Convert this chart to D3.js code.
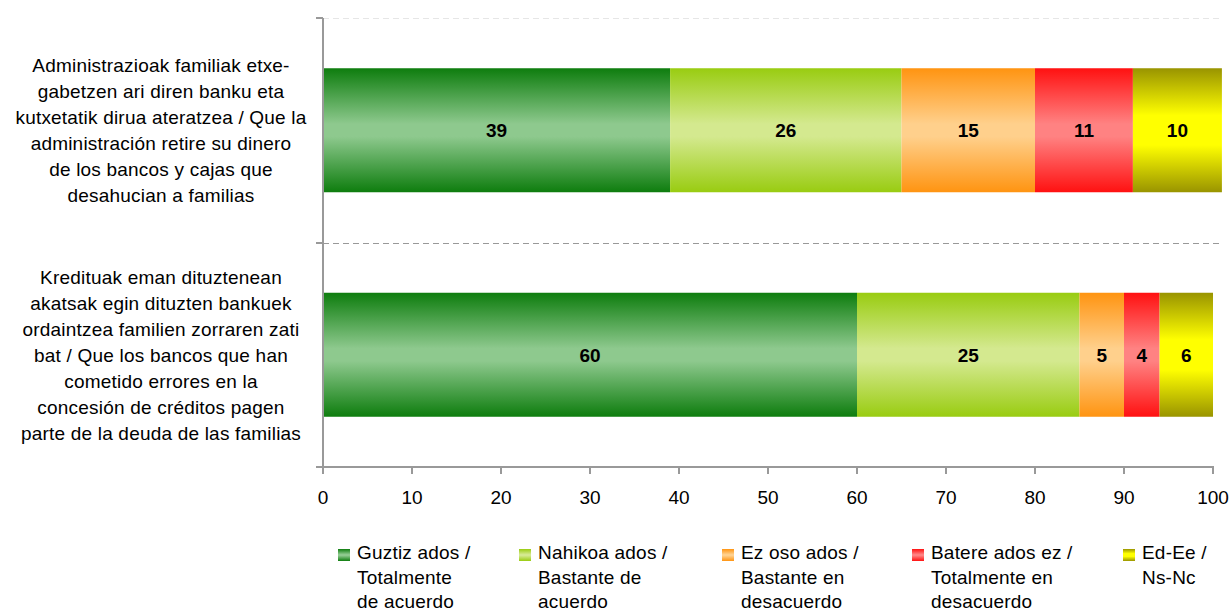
<!DOCTYPE html>
<html><head><meta charset="utf-8">
<script src="https://cdn.jsdelivr.net/npm/d3@7"></script>
<style>body{margin:0;background:#fff}svg{display:block;font-family:"Liberation Sans",Arial,sans-serif}</style>
</head><body><svg id="c" width="1231" height="608"></svg>
<script>
const categories = [
  ["Administrazioak familiak etxe-","gabetzen ari diren banku eta","kutxetatik dirua ateratzea / Que la","administración retire su dinero","de los bancos y cajas que","desahucian a familias"],
  ["Kredituak eman dituztenean","akatsak egin dituzten bankuek","ordaintzea familien zorraren zati","bat / Que los bancos que han","cometido errores en la","concesión de créditos pagen","parte de la deuda de las familias"]
];
const seriesNames = [
  ["Guztiz ados /","Totalmente","de acuerdo"],
  ["Nahikoa ados /","Bastante de","acuerdo"],
  ["Ez oso ados /","Bastante en","desacuerdo"],
  ["Batere ados ez /","Totalmente en","desacuerdo"],
  ["Ed-Ee /","Ns-Nc"]
];
const guztiz = [39, 60];
const nahikoa = [26, 25];
const ezOso = [15, 5];
const batere = [11, 4];
const edEe = [10, 6];
const xTicks = [0,10,20,30,40,50,60,70,80,90,100];
const edgeColors = ["#0e7d0e","#99cc11","#ff9411","#ff1111","#999400"];
const midColors = ["#8ec98e","#d4e98f","#ffd08c","#ff8282","#ffff00"];

const keys = ["s0","s1","s2","s3","s4"];
const rows = [0,1].map(i => ({cat:i, s0:guztiz[i], s1:nahikoa[i], s2:ezOso[i], s3:batere[i], s4:edEe[i]}));
const stacked = d3.stack().keys(keys)(rows);

const svg = d3.select("#c");
const x = d3.scaleLinear().domain([0,100]).range([323,1213]);
const yBand = d3.scaleBand().domain([0,1]).range([18,467]).paddingInner(0).paddingOuter(0);
const barH = 124;
const FS = 19;

const defs = svg.append("defs");
keys.forEach((k,i)=>{
  const g = defs.append("linearGradient").attr("id","g"+i).attr("x1",0).attr("y1",0).attr("x2",0).attr("y2",1);
  const a = i===4 ? 38 : 45, b = i===4 ? 62 : 55;
  g.append("stop").attr("offset","0%").attr("stop-color",edgeColors[i]);
  g.append("stop").attr("offset",a+"%").attr("stop-color",midColors[i]);
  g.append("stop").attr("offset",b+"%").attr("stop-color",midColors[i]);
  g.append("stop").attr("offset","100%").attr("stop-color",edgeColors[i]);
});

// gridlines
svg.append("line").attr("x1",323).attr("x2",1222).attr("y1",18.5).attr("y2",18.5)
  .attr("stroke","#e6e6e6").attr("stroke-dasharray","6,4");
svg.append("line").attr("x1",323).attr("x2",1222).attr("y1",243.5).attr("y2",243.5)
  .attr("stroke","#999").attr("stroke-dasharray","6,4");

// bars
stacked.forEach((s,i)=>{
  svg.append("g").selectAll("rect").data(s).join("rect")
    .attr("x",d=>x(d[0])).attr("width",d=>x(d[1])-x(d[0]))
    .attr("y",d=>yBand(d.data.cat)+yBand.bandwidth()/2-barH/2).attr("height",barH)
    .attr("fill","url(#g"+i+")");
  svg.append("g").selectAll("text").data(s).join("text")
    .attr("x",d=>(x(d[0])+x(d[1]))/2).attr("y",d=>yBand(d.data.cat)+yBand.bandwidth()/2)
    .attr("dy","0.36em").attr("text-anchor","middle").attr("font-weight","bold").attr("font-size",FS)
    .text(d=>d[1]-d[0]);
});

// axes
const axG = svg.append("g").attr("stroke","#999").attr("stroke-width",2);
axG.append("line").attr("x1",323).attr("x2",323).attr("y1",18).attr("y2",468);
axG.append("line").attr("x1",322).attr("x2",1214).attr("y1",467).attr("y2",467);
[18,243,467].forEach(y=>axG.append("line").attr("x1",316).attr("x2",323).attr("y1",y).attr("y2",y));
xTicks.forEach(t=>axG.append("line").attr("x1",x(t)).attr("x2",x(t)).attr("y1",467).attr("y2",474));
svg.append("g").selectAll("text").data(xTicks).join("text")
  .attr("x",d=>x(d)).attr("y",504).attr("text-anchor","middle").attr("font-size",FS).attr("fill","#000").text(d=>d);

// category labels
categories.forEach((lines,i)=>{
  const cy = yBand(i)+yBand.bandwidth()/2;
  const lh = 26;
  const t = svg.append("text").attr("text-anchor","middle").attr("font-size",FS).attr("letter-spacing",0.2).attr("fill","#000");
  lines.forEach((l,j)=>{
    t.append("tspan").attr("x",161).attr("y",cy+(j-(lines.length-1)/2)*lh).attr("dy","0.36em").text(l);
  });
});

// legend
const legX = [338,519,722,912,1123];
seriesNames.forEach((lines,i)=>{
  svg.append("rect").attr("x",legX[i]).attr("y",549).attr("width",12).attr("height",12).attr("fill","url(#g"+i+")");
  const t = svg.append("text").attr("font-size",FS).attr("letter-spacing",0.2).attr("fill","#000");
  lines.forEach((l,j)=>t.append("tspan").attr("x",legX[i]+19).attr("y",559+j*24.5).text(l));
});
</script></body></html>
